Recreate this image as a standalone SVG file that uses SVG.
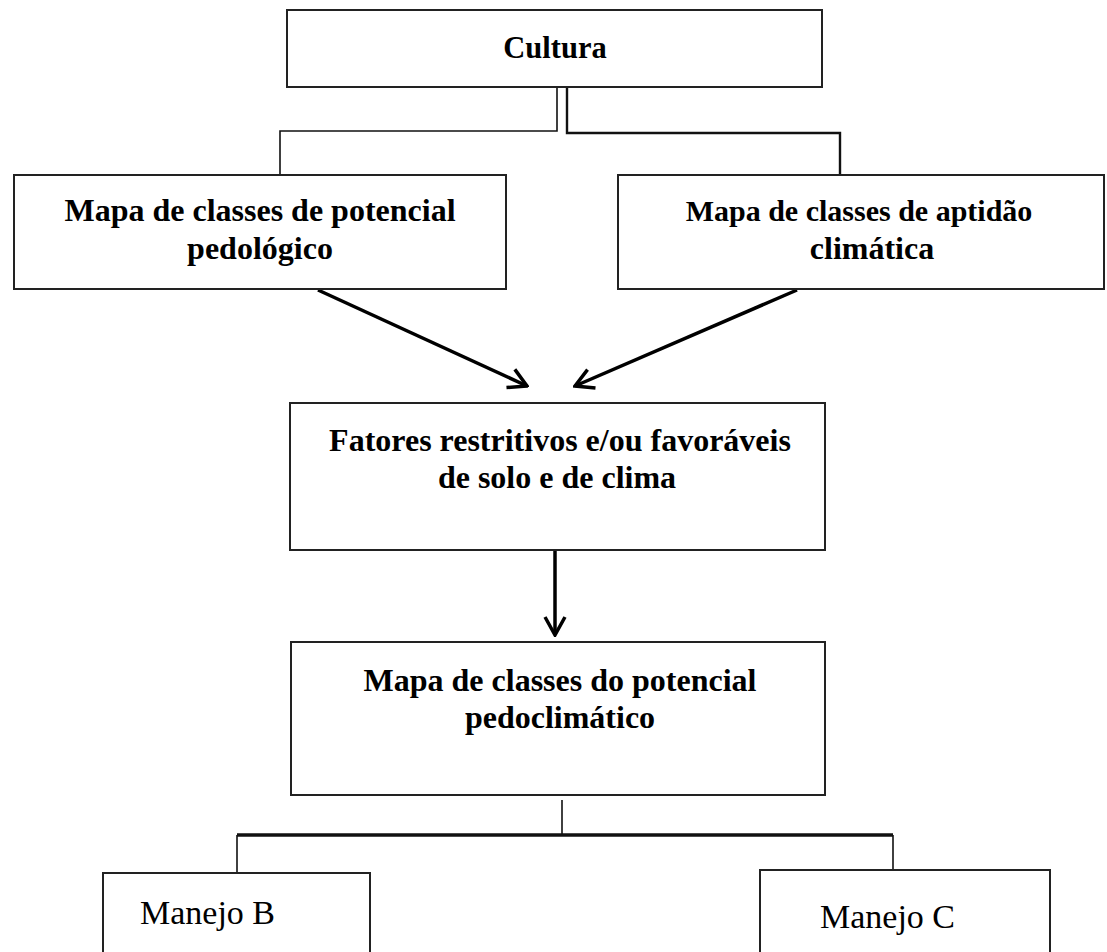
<svg xmlns="http://www.w3.org/2000/svg" width="1107" height="952" viewBox="0 0 1107 952">
<style>
.box{fill:#fff;stroke:#222;stroke-width:2}
.t{font-family:"Liberation Serif","Times New Roman",serif;font-weight:bold;font-size:32px;fill:#000;text-anchor:middle}
.r{font-family:"Liberation Serif","Times New Roman",serif;font-size:34px;fill:#000}
.ln{fill:none;stroke:#111;stroke-width:1.6}
.arr{fill:none;stroke:#000;stroke-width:3.5}
</style>
<defs>
<marker id="ah" markerUnits="userSpaceOnUse" viewBox="0 0 24 24" refX="22" refY="12" markerWidth="24" markerHeight="24" orient="auto">
<path d="M4,2 L22,12 L4,22" fill="none" stroke="#000" stroke-width="3.5"/>
</marker>
</defs>
<rect width="1107" height="952" fill="#fff"/>
<g id="connectors">
<path class="ln" d="M557,87 V131 H280 V175"/>
<path class="ln" d="M567,87 V133 H840 V175" style="stroke-width:2.4"/>
<line class="arr" x1="318" y1="290" x2="527" y2="386" marker-end="url(#ah)"/>
<line class="arr" x1="797" y1="290" x2="575" y2="386" marker-end="url(#ah)"/>
<line class="arr" x1="555" y1="550" x2="555" y2="635" marker-end="url(#ah)"/>
<path class="ln" d="M562,800 V835"/>
<path class="ln" d="M237,835 H893" style="stroke-width:3.5"/>
<path class="ln" d="M237,835 V872"/>
<path class="ln" d="M893,835 V870"/>
</g>
<g id="cultura">
<rect class="box" x="287" y="10" width="535" height="77"/>
<text class="t" x="555" y="58" style="font-size:30.5px">Cultura</text>
</g>
<g id="pedologico">
<rect class="box" x="14" y="175" width="492" height="114"/>
<text class="t" x="260" y="221">Mapa de classes de potencial</text>
<text class="t" x="260" y="259">pedológico</text>
</g>
<g id="climatica">
<rect class="box" x="618" y="175" width="486" height="114"/>
<text class="t" x="859" y="221" style="font-size:30px">Mapa de classes de aptidão</text>
<text class="t" x="872" y="259">climática</text>
</g>
<g id="fatores">
<rect class="box" x="290" y="403" width="535" height="147"/>
<text class="t" x="560" y="451">Fatores restritivos e/ou favoráveis</text>
<text class="t" x="557" y="488">de solo e de clima</text>
</g>
<g id="pedoclimatico">
<rect class="box" x="291" y="642" width="534" height="153"/>
<text class="t" x="560" y="691">Mapa de classes do potencial</text>
<text class="t" x="560" y="728">pedoclimático</text>
</g>
<g id="manejoB">
<rect class="box" x="103" y="873" width="267" height="90"/>
<text class="r" x="140" y="924">Manejo B</text>
</g>
<g id="manejoC">
<rect class="box" x="760" y="870" width="290" height="93"/>
<text class="r" x="820" y="928">Manejo C</text>
</g>
</svg>
